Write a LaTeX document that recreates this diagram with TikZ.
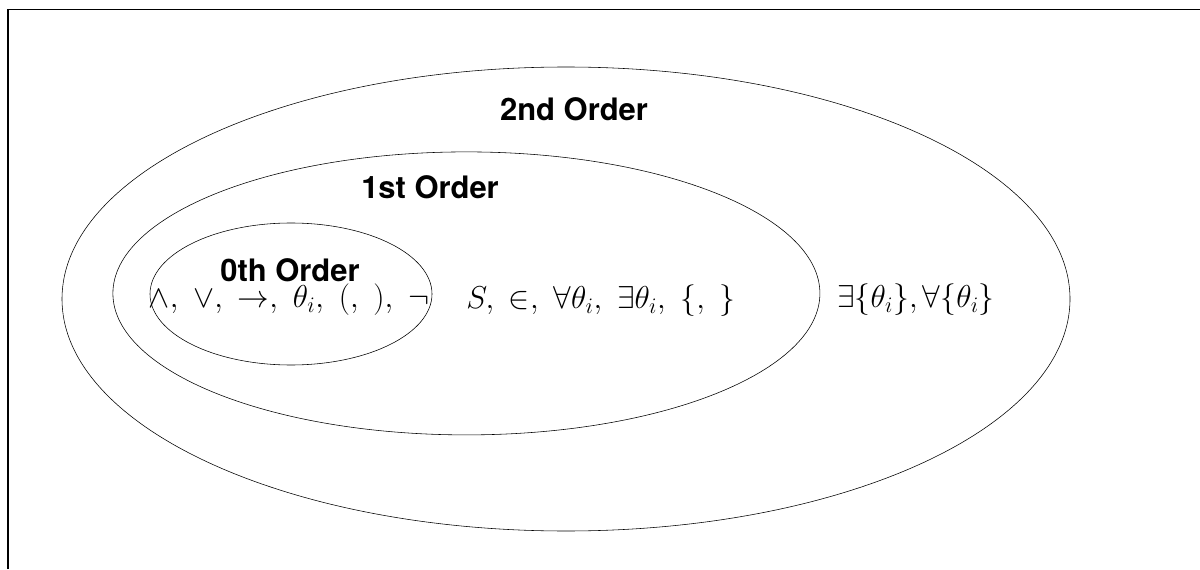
\RequirePackage{fix-cm}
\documentclass[tikz,border=0pt]{standalone}
\usepackage{fontspec}
\setsansfont{TeX Gyre Heros}
\usetikzlibrary{shapes.geometric}
\tikzset{
  order/.style={draw, ellipse, inner sep=0pt},
  title/.style={font=\fontsize{22}{26}\selectfont\sffamily\bfseries},
  symbols/.style={font=\fontsize{22.5}{26}\selectfont}
}
\begin{document}
\begin{tikzpicture}
  \useasboundingbox (0,0) rectangle (30,14.225);
  % frame
  \draw[line width=0.8pt] (0.2,0) -- (0.2,13.99) -- (30,13.99);
  % nested orders
  \draw
    (14.15,6.75) node[order, minimum width=25.2cm, minimum height=11.6cm] (second){}
    (11.66,6.89) node[order, minimum width=17.675cm, minimum height=7.075cm] (first){}
    (7.275,6.875) node[order, minimum width=7.05cm, minimum height=3.55cm] (zeroth){};
  % titles
  \draw
    (14.35,11.5) node[title] (secondtitle){2nd Order}
    (10.75,9.55) node[title] (firsttitle){1st Order}
    (7.25,7.475) node[title] (zerothtitle){0th Order};
  % symbols
  \draw
    (7.225,6.725) node[symbols] (zerothsym){$\wedge,\ \vee,\ \rightarrow,\ \theta_i,\ (,\ ),\ \neg$}
    (15.025,6.7) node[symbols] (firstsym){$S,\ \in,\ \forall\theta_i,\ \exists\theta_i,\ \{,\ \}$}
    (22.9,6.725) node[symbols] (secondsym){$\exists\{\theta_i\},\forall\{\theta_i\}$};
\end{tikzpicture}
\end{document}
